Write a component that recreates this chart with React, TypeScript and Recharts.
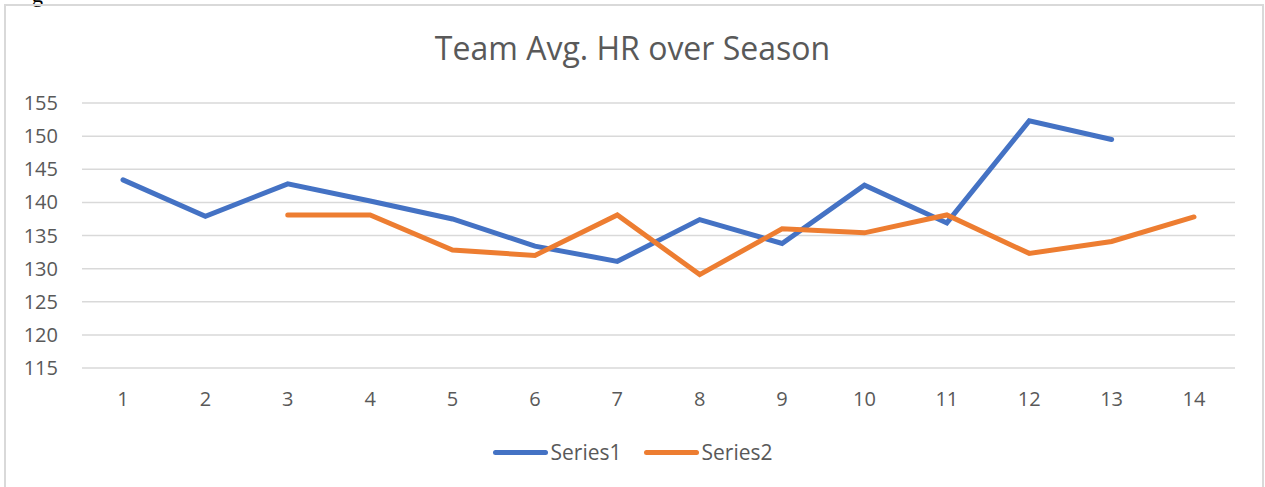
import React from 'react';
import { LineChart, Line, XAxis, YAxis, CartesianGrid } from 'recharts';

const games = ['1', '2', '3', '4', '5', '6', '7', '8', '9', '10', '11', '12', '13', '14'];
const series1 = [143.4, 137.9, 142.8, 140.2, 137.5, 133.4, 131.1, 137.4, 133.8, 142.6, 136.9, 152.3, 149.5, null];
const series2 = [null, null, 138.1, 138.1, 132.8, 132.0, 138.1, 129.1, 136.0, 135.4, 138.1, 132.3, 134.1, 137.8];
const yTicks = [115, 120, 125, 130, 135, 140, 145, 150, 155];

const seriesList = [
  { key: 'Series1', color: '#4472C4' },
  { key: 'Series2', color: '#ED7D31' },
];

const data = games.map((g, i) => ({ game: g, Series1: series1[i], Series2: series2[i] }));

const FONT = '"Open Sans", sans-serif';

export default function App() {
  return (
    <div style={{ position: 'fixed', left: 0, top: 0, width: 1265, height: 487, background: '#fff', overflow: 'hidden' }}>
      <span style={{ position: 'absolute', left: 32, top: -18, fontFamily: 'serif', fontSize: 22 }}>g</span>
      <div style={{ position: 'absolute', left: 4, top: 4, width: 1256, height: 500, border: '2px solid #d9d9d9' }} />
      <div style={{ position: 'absolute', left: 0, top: 26, width: 1265, textAlign: 'center', fontFamily: FONT, fontSize: 32, color: '#595959' }}>
        Team Avg. HR over Season
      </div>
      <div style={{ position: 'absolute', left: 0, top: 0 }}>
        <LineChart width={1265} height={487} data={data} margin={{ top: 103, right: 30, bottom: 89, left: 0 }}>
          <CartesianGrid vertical={false} stroke="#d9d9d9" strokeWidth={1.5} />
          <XAxis
            dataKey="game"
            padding={{ left: 41, right: 41 }}
            axisLine={false}
            tickLine={false}
            tickSize={0}
            tickMargin={24}
            height={30}
            interval={0}
            tick={{ fill: '#595959', fontSize: 20, fontFamily: FONT }}
          />
          <YAxis
            domain={[115, 155]}
            ticks={yTicks}
            width={82}
            axisLine={false}
            tickLine={false}
            tickSize={0}
            tickMargin={24}
            tick={{ fill: '#595959', fontSize: 20, fontFamily: FONT }}
          />
          {seriesList.map((s) => (
            <Line
              key={s.key}
              dataKey={s.key}
              stroke={s.color}
              strokeWidth={5}
              strokeLinecap="round"
              strokeLinejoin="miter"
              dot={false}
              activeDot={false}
              isAnimationActive={false}
            />
          ))}
        </LineChart>
      </div>
      <div style={{ position: 'absolute', left: 0, top: 438, width: 1265, display: 'flex', justifyContent: 'center', fontFamily: FONT, fontSize: 21, color: '#595959' }}>
        {seriesList.map((s) => (
          <div key={s.key} style={{ display: 'flex', alignItems: 'center', margin: '0 11px' }}>
            <div style={{ width: 55, height: 5, borderRadius: 3, background: s.color, marginRight: 3 }} />
            <span>{s.key}</span>
          </div>
        ))}
      </div>
    </div>
  );
}
